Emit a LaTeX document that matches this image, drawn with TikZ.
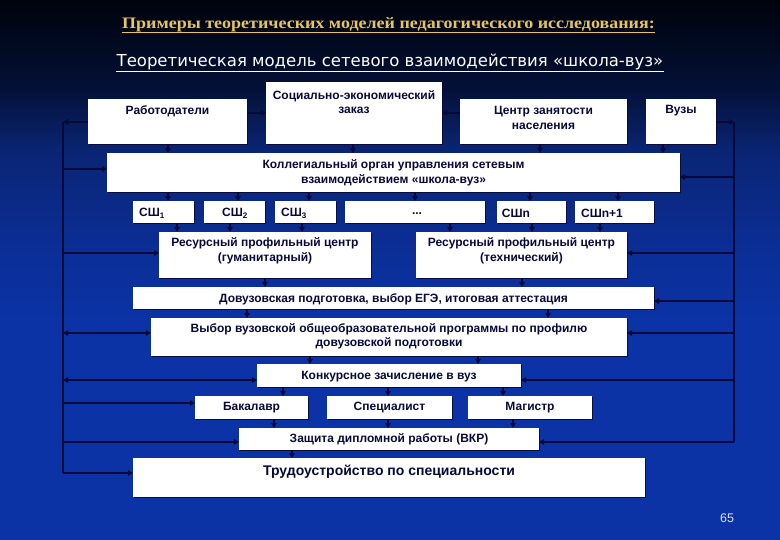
\documentclass[tikz,border=0pt]{standalone}
\usepackage{fontspec}
\setmainfont{Liberation Sans}
\newfontfamily\titlefont{Liberation Serif}
\newfontfamily\subfont{DejaVu Sans}
\usetikzlibrary{arrows.meta,calc,shadows}
\definecolor{ink}{HTML}{08093A}
\definecolor{titleyellow}{HTML}{E8C45A}
\definecolor{bgT}{HTML}{00030C}
\definecolor{bgD}{HTML}{031036}
\definecolor{bgU}{HTML}{0A2574}
\definecolor{bgM}{HTML}{0B2E96}
\definecolor{bgB}{HTML}{0B33A6}
\pgfdeclareverticalshading{bgshade}{100bp}{color(0bp)=(bgB); color(25bp)=(bgB); color(45bp)=(bgB); color(52bp)=(bgM); color(61bp)=(bgU); color(67bp)=(bgD); color(75bp)=(bgT); color(100bp)=(bgT)}
\newcommand\mybox[5]{\node[box, minimum width={#4-#2}, minimum height={#5-#3}] (#1) at ({(#2+#4)/2},{(#3+#5)/2}) {};}
\begin{document}
\begin{tikzpicture}[x=1pt,y=-1pt,
  box/.style={fill=white, draw=none, inner sep=0, outer sep=0,
    drop shadow={shadow xshift=1.2pt, shadow yshift=-1.2pt, opacity=0.9, fill=ink}},
  txt/.style={font=\bfseries\fontsize{12}{14.5}\selectfont, text=ink, align=center, inner sep=0},
  arr/.style={draw=ink, line width=1.8pt, -{Triangle[length=5pt,width=5.5pt]}},
  darr/.style={draw=ink, line width=1.8pt, {Triangle[length=5pt,width=5.5pt]}-{Triangle[length=5pt,width=5.5pt]}},
  ln/.style={draw=ink, line width=1.8pt}]
\useasboundingbox (0,0) rectangle (780,540);
\shade[shading=bgshade] (0,0) rectangle (780,540);

% titles
\node[font=\titlefont\bfseries\fontsize{16}{18}\selectfont, text=titleyellow, inner sep=0] (title) at (388.5,25) {\scalebox{1.125}[1]{Примеры теоретических моделей педагогического исследования:}};
\draw[titleyellow, line width=1pt] (title.west |- 0,32.5) -- (title.east |- 0,32.5);
\node[font=\subfont\fontsize{16.5}{18}\selectfont, text=white, inner sep=0] (sub) at (390,62) {Теоретическая модель сетевого взаимодействия «школа-вуз»};
\draw[white, line width=1.1pt] (sub.west |- 0,71.5) -- (sub.east |- 0,71.5);

% boxes
\mybox{rab}{88}{99}{247}{144}
\mybox{soc}{266}{82}{442}{144}
\mybox{czn}{460}{99}{627}{144}
\mybox{vuz}{646}{99}{716}{144}
\mybox{kol}{107}{153}{680}{192}
\mybox{s1}{133}{201}{194}{223}
\mybox{s2}{204}{201}{265}{223}
\mybox{s3}{275}{201}{336}{223}
\mybox{sd}{345}{201}{485}{223}
\mybox{sn}{497}{201}{566}{223}
\mybox{sn1}{575}{201}{654}{223}
\mybox{rg}{159}{232}{371}{278}
\mybox{rt}{416}{232}{627}{278}
\mybox{dov}{133}{287}{654}{309}
\mybox{vyb}{151}{318}{627}{356}
\mybox{kon}{257}{364}{521}{387}
\mybox{bak}{195}{396}{308}{419}
\mybox{spe}{327}{396}{452}{419}
\mybox{mag}{468}{396}{592}{419}
\mybox{zas}{239}{428}{539}{450}
\mybox{tru}{133}{458}{645}{497}

% texts
\node[txt] at (rab.north |- 0,111) {Работодатели};
\node[txt] at (soc.north |- 0,102) {Социально-экономический\\заказ};
\node[txt] at (czn.north |- 0,118) {Центр занятости\\населения};
\node[txt] at (vuz.north |- 0,111) {Вузы};
\node[txt] at (kol.north |- 0,173) {Коллегиальный орган управления сетевым\\взаимодействием «школа-вуз»};
\node[txt] at (152,213) {СШ\textsubscript{1}};
\node[txt] at (235,213) {СШ\textsubscript{2}};
\node[txt] at (294,213) {СШ\textsubscript{3}};
\node[txt] at (417,214) {...};
\node[txt] at (516,213) {СШn};
\node[txt] at (602,213) {СШn+1};
\node[txt] at (rg.north |- 0,251) {Ресурсный профильный центр\\(гуманитарный)};
\node[txt] at (rt.north |- 0,251) {Ресурсный профильный центр\\(технический)};
\node[txt] at (dov.north |- 0,299) {Довузовская подготовка, выбор ЕГЭ, итоговая аттестация};
\node[txt] at (vyb.north |- 0,336.5) {Выбор вузовской общеобразовательной программы по профилю\\довузовской подготовки};
\node[txt] at (kon.north |- 0,377) {Конкурсное зачисление в вуз};
\node[txt] at (bak.north |- 0,408) {Бакалавр};
\node[txt] at (spe.north |- 0,408) {Специалист};
\node[txt] at (mag.north |- 0,408) {Магистр};
\node[txt] at (zas.north |- 0,439) {Защита дипломной работы (ВКР)};
\node[txt, font=\bfseries\fontsize{14}{16}\selectfont] at (tru.north |- 0,472) {Трудоустройство по специальности};
\node[font=\fontsize{12.5}{14}\selectfont, text=white!88!blue, inner sep=0] (pg) at (727,518) {65};

% side lines
\coordinate (L1) at (63,122);
\coordinate (L2) at (63,473);
\coordinate (R1) at (734,122);
\coordinate (R2) at (734,442);
\draw[ln] (L1) -- (L2);
\draw[ln] (R1) -- (R2);

% top row horizontal
\draw[arr] (rab.west |- L1) -- (L1);
\draw[arr] (vuz.east |- R1) -- (R1);
\draw[arr] (rab.east |- 0,113) -- (soc.west |- 0,113);
\draw[arr] (czn.west |- 0,113) -- (soc.east |- 0,113);

% left side arrows
\draw[arr] (L1 |- 0,169) -- (kol.west |- 0,169);
\draw[arr] (L1 |- 0,253) -- (rg.west |- 0,253);
\draw[darr] (L1 |- 0,333) -- (vyb.west |- 0,333);
\draw[darr] (L1 |- 0,380) -- (kon.west |- 0,380);
\draw[arr] (L1 |- 0,403) -- (bak.west |- 0,403);
\draw[arr] (L1 |- 0,442) -- (zas.west |- 0,442);
\draw[arr] (L1 |- 0,473) -- (tru.west |- 0,473);

% right side arrows
\draw[arr] (R1 |- 0,177) -- (kol.east |- 0,177);
\draw[arr] (R1 |- 0,253) -- (rt.east |- 0,253);
\draw[arr] (R1 |- 0,301) -- (dov.east |- 0,301);
\draw[arr] (R1 |- 0,333) -- (vyb.east |- 0,333);
\draw[arr] (R1 |- 0,380) -- (kon.east |- 0,380);
\draw[arr] (R1 |- 0,442) -- (zas.east |- 0,442);

% vertical arrows
\draw[arr] (168,0 |- rab.south) -- (168,0 |- kol.north);
\draw[arr] (353,0 |- soc.south) -- (353,0 |- kol.north);
\draw[arr] (540,0 |- czn.south) -- (540,0 |- kol.north);
\draw[arr] (663,0 |- vuz.south) -- (663,0 |- kol.north);

\draw[arr] (168,0 |- kol.south) -- (168,0 |- s1.north);
\draw[arr] (238,0 |- kol.south) -- (238,0 |- s2.north);
\draw[arr] (309,0 |- kol.south) -- (309,0 |- s3.north);
\draw[arr] (415,0 |- kol.south) -- (415,0 |- sd.north);
\draw[arr] (530,0 |- kol.south) -- (530,0 |- sn.north);
\draw[arr] (618,0 |- kol.south) -- (618,0 |- sn1.north);

\draw[arr] (177,0 |- s1.south) -- (177,0 |- rg.north);
\draw[arr] (230,0 |- s2.south) -- (230,0 |- rg.north);
\draw[arr] (302,0 |- s3.south) -- (302,0 |- rg.north);
\draw[arr] (450,0 |- sd.south) -- (450,0 |- rt.north);
\draw[arr] (532,0 |- sn.south) -- (532,0 |- rt.north);
\draw[arr] (600,0 |- sn1.south) -- (600,0 |- rt.north);

\draw[arr] (265,0 |- rg.south) -- (265,0 |- dov.north);
\draw[arr] (522,0 |- rt.south) -- (522,0 |- dov.north);

\draw[arr] (247,0 |- dov.south) -- (247,0 |- vyb.north);
\draw[arr] (548,0 |- dov.south) -- (548,0 |- vyb.north);

\draw[arr] (310,0 |- vyb.south) -- (310,0 |- kon.north);
\draw[arr] (478,0 |- vyb.south) -- (478,0 |- kon.north);

\draw[arr] (283,0 |- kon.south) -- (283,0 |- bak.north);
\draw[arr] (388,0 |- kon.south) -- (388,0 |- spe.north);
\draw[arr] (503,0 |- kon.south) -- (503,0 |- mag.north);

\draw[arr] (274,0 |- bak.south) -- (274,0 |- zas.north);
\draw[arr] (388,0 |- spe.south) -- (388,0 |- zas.north);
\draw[arr] (513,0 |- mag.south) -- (513,0 |- zas.north);

\draw[arr] (292,0 |- zas.south) -- (292,0 |- tru.north);
\end{tikzpicture}
\end{document}
